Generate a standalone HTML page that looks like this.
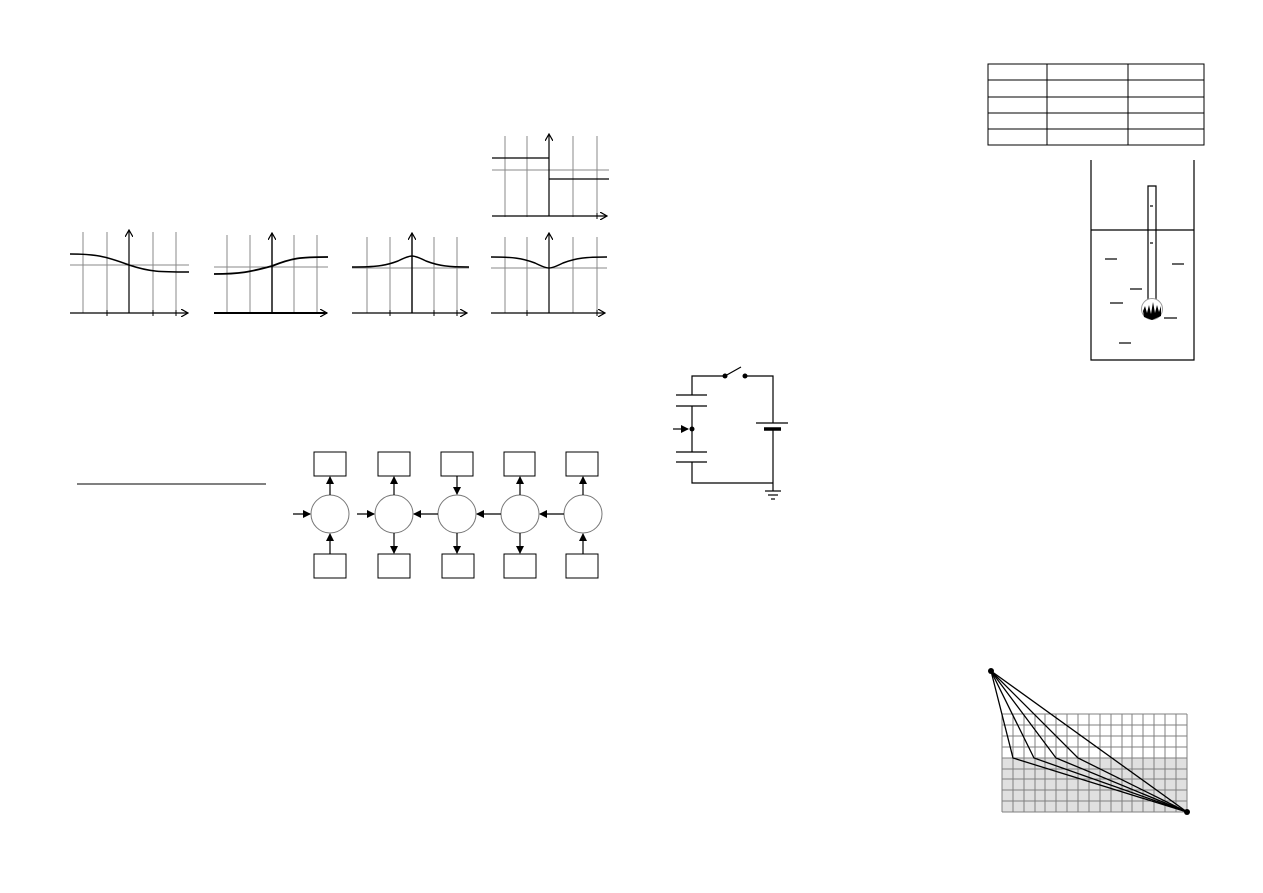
<!DOCTYPE html>
<html><head><meta charset="utf-8"><style>html,body{margin:0;padding:0;background:#fff}svg{display:block}</style></head>
<body>
<svg width="1263" height="893" viewBox="0 0 1263 893" xmlns="http://www.w3.org/2000/svg">
<defs>
<marker id="ah" markerWidth="8" markerHeight="8" refX="7" refY="4" orient="auto" markerUnits="userSpaceOnUse"><path d="M0,0 L8,4 L0,8 Z" fill="#000"/></marker>
<marker id="oa" markerWidth="8" markerHeight="8" refX="7" refY="4" orient="auto" markerUnits="userSpaceOnUse"><path d="M0,0 L7,4 L0,8" fill="none" stroke="#000" stroke-width="1.2"/></marker>
</defs>

<!-- Graphs -->
<g fill="none">
<!-- top-right step graph -->
<g stroke="#888" stroke-width="1">
<line x1="505" y1="136" x2="505" y2="217"/><line x1="527" y1="136" x2="527" y2="217"/><line x1="573" y1="136" x2="573" y2="217"/><line x1="597" y1="136" x2="597" y2="217"/>
<line x1="492" y1="170" x2="609" y2="170"/>
</g>
<g stroke="#000" stroke-width="1.2">
<line x1="492" y1="216" x2="607" y2="216" marker-end="url(#oa)"/>
<line x1="549" y1="216" x2="549" y2="134" marker-end="url(#oa)"/>
<line x1="492" y1="158" x2="549" y2="158"/><line x1="549" y1="179" x2="609" y2="179"/>
</g>

<!-- graph 1 -->
<g stroke="#888"><line x1="83" y1="232" x2="83" y2="313"/><line x1="107" y1="232" x2="107" y2="313"/><line x1="153" y1="232" x2="153" y2="313"/><line x1="176" y1="232" x2="176" y2="313"/><line x1="70" y1="265" x2="189" y2="265"/></g>
<g stroke="#000" stroke-width="1.2"><line x1="70" y1="313" x2="188" y2="313" marker-end="url(#oa)"/><line x1="129" y1="313" x2="129" y2="230" marker-end="url(#oa)"/>
<path d="M70,254 C95,254 105,256 129,265 C150,272 160,272 189,272" stroke-width="1.6"/></g>
<!-- graph 2 -->
<g stroke="#888"><line x1="227" y1="235" x2="227" y2="313"/><line x1="250" y1="235" x2="250" y2="313"/><line x1="294" y1="235" x2="294" y2="313"/><line x1="317" y1="235" x2="317" y2="313"/><line x1="214" y1="267" x2="328" y2="267"/></g>
<g stroke="#000" stroke-width="1.2"><line x1="214" y1="313" x2="327" y2="313" marker-end="url(#oa)" stroke-width="2"/><line x1="272" y1="313" x2="272" y2="233" marker-end="url(#oa)" stroke-width="1.4"/>
<path d="M214,274 C240,274 250,272 272,266 C292,258 300,257 328,257" stroke-width="1.8"/></g>
<!-- graph 3 -->
<g stroke="#888"><line x1="367" y1="237" x2="367" y2="313"/><line x1="390" y1="237" x2="390" y2="313"/><line x1="434" y1="237" x2="434" y2="313"/><line x1="457" y1="237" x2="457" y2="313"/><line x1="352" y1="268" x2="469" y2="268"/></g>
<g stroke="#000" stroke-width="1.2"><line x1="352" y1="313" x2="467" y2="313" marker-end="url(#oa)"/><line x1="412" y1="313" x2="412" y2="233" marker-end="url(#oa)" stroke-width="1.4"/>
<path d="M352,267 C375,267 385,266 398,261 C406,257 410,256 412,256 C414,256 418,257 426,261 C439,266 449,267 469,267" stroke-width="1.5"/></g>
<!-- graph 4 -->
<g stroke="#888"><line x1="505" y1="237" x2="505" y2="313"/><line x1="527" y1="237" x2="527" y2="313"/><line x1="573" y1="237" x2="573" y2="313"/><line x1="597" y1="237" x2="597" y2="313"/><line x1="491" y1="268" x2="607" y2="268"/></g>
<g stroke="#000" stroke-width="1.2"><line x1="491" y1="313" x2="605" y2="313" marker-end="url(#oa)"/><line x1="549" y1="313" x2="549" y2="233" marker-end="url(#oa)"/>
<path d="M491,257 C512,257 522,258 535,263 C543,267 547,268 549,268 C551,268 555,267 563,263 C576,258 586,257 607,257" stroke-width="1.5"/></g>
<!-- ticks -->
<g stroke="#000" stroke-width="1">
<line x1="107" y1="310" x2="107" y2="316"/><line x1="153" y1="310" x2="153" y2="316"/><line x1="176" y1="310" x2="176" y2="316"/>
<line x1="390" y1="310" x2="390" y2="316"/><line x1="434" y1="310" x2="434" y2="316"/><line x1="457" y1="310" x2="457" y2="316"/>
<line x1="527" y1="310" x2="527" y2="316"/><line x1="597" y1="310" x2="597" y2="316"/><line x1="597" y1="213" x2="597" y2="219"/>
</g>
</g>

<!-- horizontal line -->
<line x1="77" y1="484" x2="266" y2="484" stroke="#000" stroke-width="1"/>

<!-- RNN diagram -->
<g fill="#fff" stroke="#000" stroke-width="1">
<rect x="314" y="452" width="32" height="24"/><rect x="378" y="452" width="32" height="24"/><rect x="441" y="452" width="32" height="24"/><rect x="504" y="452" width="31" height="24"/><rect x="566" y="452" width="32" height="24"/>
<rect x="314" y="554" width="32" height="24"/><rect x="378" y="554" width="32" height="24"/><rect x="442" y="554" width="32" height="24"/><rect x="504" y="554" width="32" height="24"/><rect x="566" y="554" width="32" height="24"/>
</g>
<g fill="none" stroke="#777" stroke-width="1">
<circle cx="330" cy="514" r="19"/><circle cx="394" cy="514" r="19"/><circle cx="457" cy="514" r="19"/><circle cx="520" cy="514" r="19"/><circle cx="583" cy="514" r="19"/>
</g>
<g stroke="#000" stroke-width="1.2" marker-end="url(#ah)">
<line x1="330" y1="495" x2="330" y2="477"/><line x1="330" y1="554" x2="330" y2="534"/><line x1="293" y1="514" x2="310" y2="514"/>
<line x1="394" y1="495" x2="394" y2="477"/><line x1="394" y1="533" x2="394" y2="553"/><line x1="357" y1="514" x2="374" y2="514"/>
<line x1="457" y1="476" x2="457" y2="494"/><line x1="457" y1="533" x2="457" y2="553"/><line x1="438" y1="514" x2="414" y2="514"/>
<line x1="520" y1="495" x2="520" y2="477"/><line x1="520" y1="533" x2="520" y2="553"/><line x1="501" y1="514" x2="477" y2="514"/>
<line x1="583" y1="495" x2="583" y2="477"/><line x1="583" y1="554" x2="583" y2="534"/><line x1="564" y1="514" x2="540" y2="514"/>
</g>

<!-- Circuit -->
<g stroke="#000" stroke-width="1.2" fill="none">
<polyline points="692,395 692,376 725,376"/>
<polyline points="745,376 773,376 773,423"/>
<line x1="725" y1="376" x2="741" y2="367"/>
<line x1="676" y1="395" x2="707" y2="395"/><line x1="676" y1="406" x2="707" y2="406"/>
<line x1="692" y1="406" x2="692" y2="452"/>
<line x1="676" y1="452" x2="707" y2="452"/><line x1="676" y1="462" x2="707" y2="462"/>
<polyline points="692,462 692,483 773,483"/>
<line x1="756" y1="423" x2="788" y2="423"/>
<line x1="764" y1="429" x2="781" y2="429" stroke-width="3.5"/>
<line x1="773" y1="429" x2="773" y2="491"/>
<line x1="765" y1="491" x2="781" y2="491"/><line x1="768" y1="495" x2="778" y2="495"/><line x1="771" y1="499" x2="775" y2="499"/>
<line x1="673" y1="429" x2="688" y2="429" marker-end="url(#ah)"/>
</g>
<g fill="#000"><circle cx="725" cy="376" r="2.5"/><circle cx="745" cy="376" r="2.5"/><circle cx="692" cy="429" r="2.5"/></g>

<!-- Table -->
<g stroke="#000" stroke-width="1" fill="none">
<rect x="988" y="64" width="216" height="81"/>
<line x1="1047" y1="64" x2="1047" y2="145"/><line x1="1128" y1="64" x2="1128" y2="145"/>
<line x1="988" y1="80" x2="1204" y2="80"/><line x1="988" y1="97" x2="1204" y2="97"/><line x1="988" y1="113" x2="1204" y2="113"/><line x1="988" y1="129" x2="1204" y2="129"/>
</g>

<!-- Beaker -->
<g stroke="#000" stroke-width="1.2" fill="none">
<polyline points="1091,160 1091,360 1194,360 1194,160"/>
<line x1="1091" y1="230" x2="1194" y2="230"/>
<polyline points="1148,299 1148,186 1156,186 1156,299"/>
<line x1="1150" y1="206" x2="1153" y2="206"/><line x1="1150" y1="243" x2="1153" y2="243"/>
<line x1="1105" y1="259" x2="1117" y2="259"/><line x1="1172" y1="264" x2="1184" y2="264"/><line x1="1130" y1="289" x2="1142" y2="289"/><line x1="1110" y1="303" x2="1123" y2="303"/><line x1="1164" y1="318" x2="1177" y2="318"/><line x1="1119" y1="343" x2="1131" y2="343"/>
</g>
<circle cx="1152" cy="309" r="10.5" fill="#fff" stroke="#999" stroke-width="1"/>
<path d="M1143,311 L1145,306 L1147,313 L1149,305 L1151,314 L1153,302 L1155,313 L1157,305 L1159,312 L1161,306 L1161,316 L1152,320 L1144,317 Z" fill="#000"/>

<!-- Grid with lines -->
<rect x="1002" y="758" width="185" height="54" fill="#e0e0e0"/>
<g stroke="#808080" stroke-width="1">
<line x1="1002" y1="714" x2="1187" y2="714"/><line x1="1002" y1="725" x2="1187" y2="725"/><line x1="1002" y1="736" x2="1187" y2="736"/><line x1="1002" y1="747" x2="1187" y2="747"/><line x1="1002" y1="758" x2="1187" y2="758"/><line x1="1002" y1="769" x2="1187" y2="769"/><line x1="1002" y1="779" x2="1187" y2="779"/><line x1="1002" y1="790" x2="1187" y2="790"/><line x1="1002" y1="801" x2="1187" y2="801"/><line x1="1002" y1="812" x2="1187" y2="812"/>
<line x1="1002" y1="714" x2="1002" y2="812"/><line x1="1013" y1="714" x2="1013" y2="812"/><line x1="1024" y1="714" x2="1024" y2="812"/><line x1="1035" y1="714" x2="1035" y2="812"/><line x1="1045" y1="714" x2="1045" y2="812"/><line x1="1056" y1="714" x2="1056" y2="812"/><line x1="1067" y1="714" x2="1067" y2="812"/><line x1="1078" y1="714" x2="1078" y2="812"/><line x1="1089" y1="714" x2="1089" y2="812"/><line x1="1100" y1="714" x2="1100" y2="812"/><line x1="1111" y1="714" x2="1111" y2="812"/><line x1="1122" y1="714" x2="1122" y2="812"/><line x1="1132" y1="714" x2="1132" y2="812"/><line x1="1143" y1="714" x2="1143" y2="812"/><line x1="1154" y1="714" x2="1154" y2="812"/><line x1="1165" y1="714" x2="1165" y2="812"/><line x1="1176" y1="714" x2="1176" y2="812"/><line x1="1187" y1="714" x2="1187" y2="812"/>
</g>
<g stroke="#000" stroke-width="1.3" fill="none">
<polyline points="991,671 1013,758 1187,812"/>
<polyline points="991,671 1034,758 1187,812"/>
<polyline points="991,671 1056,758 1187,812"/>
<polyline points="991,671 1078,758 1187,812"/>
<line x1="991" y1="671" x2="1187" y2="812"/>
</g>
<circle cx="991" cy="671" r="3" fill="#000"/><circle cx="1187" cy="812" r="3" fill="#000"/>
</svg>
</body></html>
